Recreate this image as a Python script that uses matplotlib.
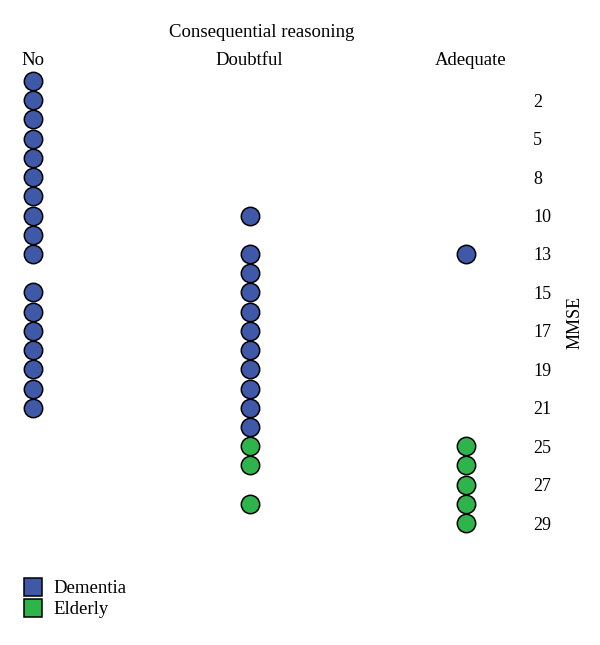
import matplotlib.pyplot as plt
from matplotlib.lines import Line2D

plt.rcParams['font.family'] = ['Liberation Serif', 'DejaVu Serif']

# columns of the dot plot
groups = ["No", "Doubtful", "Adequate"]
# row of every dot (row 0 is the top row), per column
dementia_no = [0, 1, 2, 3, 4, 5, 6, 7, 8, 9, 11, 12, 13, 14, 15, 16, 17]
dementia_doubtful = [7, 9, 10, 11, 12, 13, 14, 15, 16, 17, 18]
dementia_adequate = [9]
elderly_no = []
elderly_doubtful = [19, 20, 22]
elderly_adequate = [19, 20, 21, 22, 23]
# MMSE labels on the right side and their rows
mmse_rows = [1, 3, 5, 7, 9, 11, 13, 15, 17, 19, 21, 23]
mmse_labels = ["2", "5", "8", "10", "13", "15", "17", "19", "21", "25", "27", "29"]

blue = "#3f59a8"
green = "#2fb34b"

fig = plt.figure(figsize=(6, 6.45), dpi=100)
ax = fig.add_axes([0, 0, 0.875, 1])

dementia = [dementia_no, dementia_doubtful, dementia_adequate]
elderly = [elderly_no, elderly_doubtful, elderly_adequate]
for i in range(3):
    ax.scatter([i] * len(dementia[i]), dementia[i], s=175, c=blue,
               edgecolors="black", linewidths=1.1, zorder=3)
    ax.scatter([i] * len(elderly[i]), elderly[i], s=175, c=green,
               edgecolors="black", linewidths=1.1, zorder=3)

ax.set_xlim(-33 / 216.5, (525 - 33) / 216.5)
ax.set_ylim((645 - 81) / 19.22, -81 / 19.22)

for s in ax.spines.values():
    s.set_visible(False)
ax.set_xticks([])
ax.yaxis.tick_right()
ax.set_yticks(mmse_rows)
ax.set_yticklabels(mmse_labels, fontsize=13)
ax.tick_params(axis="y", length=0, pad=6)
ax.yaxis.set_label_position("right")
ax.set_ylabel("MMSE", fontsize=13, rotation=90, labelpad=11)

# column headers
hx = [0, 1, 2.02]
for i, g in enumerate(groups):
    ax.text(hx[i], -0.85, g, ha="center", va="baseline", fontsize=13.5)
ax.text(1.058, -2.3, "Consequential reasoning", ha="center", va="baseline", fontsize=13.5)

handles = [Line2D([], [], marker="s", ls="", markersize=13, markerfacecolor=blue,
                  markeredgecolor="black", markeredgewidth=1.1),
           Line2D([], [], marker="s", ls="", markersize=13, markerfacecolor=green,
                  markeredgecolor="black", markeredgewidth=1.1)]
fig.legend(handles, ["Dementia", "Elderly"], loc="lower left",
           bbox_to_anchor=(0.023, 0.027), frameon=False, fontsize=13.5,
           handletextpad=0.5, labelspacing=0.2, borderpad=0, handlelength=1.1)

fig.savefig("out.png", dpi=100)
